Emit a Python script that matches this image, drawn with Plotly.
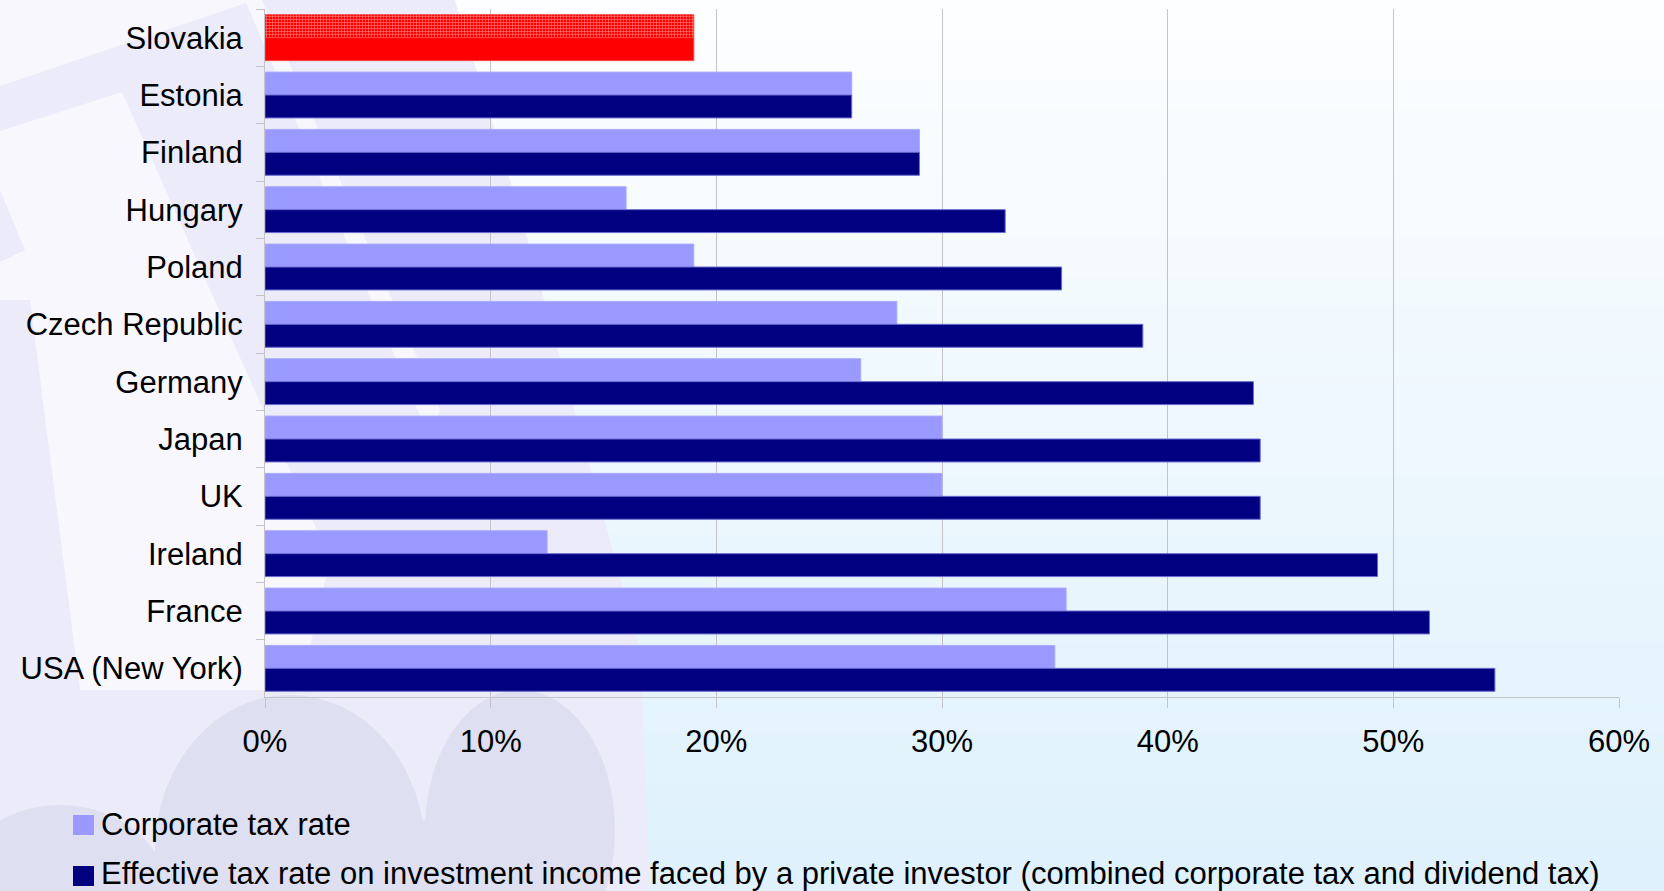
import plotly.graph_objects as go

# Tax rates by country, in percent
countries = ["Slovakia", "Estonia", "Finland", "Hungary", "Poland", "Czech Republic",
             "Germany", "Japan", "UK", "Ireland", "France", "USA (New York)"]
corporate_tax = [19.0, 26.0, 29.0, 16.0, 19.0, 28.0, 26.4, 30.0, 30.0, 12.5, 35.5, 35.0]
effective_tax = [19.0, 26.0, 29.0, 32.8, 35.3, 38.9, 43.8, 44.1, 44.1, 49.3, 51.6, 54.5]

corporate_name = "Corporate tax rate"
effective_name = ("Effective tax rate on investment income faced by a private investor "
                  "(combined corporate tax and dividend tax)")

x_ticks = [0, 10, 20, 30, 40, 50, 60]
x_tick_labels = ["0%", "10%", "20%", "30%", "40%", "50%", "60%"]

W, H = 1664, 891
ML, MR, MT, MB = 265, 45, 9, 194
PW, PH = W - ML - MR, H - MT - MB

LIGHT = "#9999ff"
DARK = "#000080"
RED = "#ff0000"
highlight = "Slovakia"


def px(X):
    return (X - ML) / PW


def py(Y):
    return 1 - (Y - MT) / PH


def poly(points, color):
    d = "M " + " L ".join(f"{px(x):.5f},{py(y):.5f}" for x, y in points) + " Z"
    return dict(type="path", xref="paper", yref="paper", path=d,
                fillcolor=color, line=dict(width=0), layer="below")


def ellipse(x0, y0, x1, y1, color):
    return dict(type="circle", xref="paper", yref="paper",
                x0=px(x0), x1=px(x1), y0=py(y1), y1=py(y0),
                fillcolor=color, line=dict(width=0), layer="below")


shapes = []
# vertical background gradient
top_rgb = (253, 254, 255)
bot_rgb = (222, 241, 252)
n = 90
for i in range(n):
    t = i / (n - 1)
    c = tuple(round(a + (b - a) * t) for a, b in zip(top_rgb, bot_rgb))
    y0 = H * i / n
    y1 = H * (i + 1) / n + 1
    shapes.append(dict(type="rect", xref="paper", yref="paper",
                       x0=px(0), x1=px(W), y0=py(y1), y1=py(y0),
                       fillcolor=f"rgb{c}", line=dict(width=0), layer="below"))

LAV = "#ebebfa"
PALE = "#f8f7fd"
LOBE = "#dedff0"
# decorative emblem on the left
shapes.append(poly([(0, 0), (455, 0), (525, 230), (640, 650), (650, H), (0, H)], LAV))
shapes.append(poly([(0, 0), (255, 0), (0, 86)], PALE))
shapes.append(poly([(0, 131), (122, 92), (330, 560), (300, 690), (0, 690)], PALE))
shapes.append(poly([(245, 0), (262, 0), (440, 410), (430, 440)], PALE))
shapes.append(poly([(0, 300), (30, 300), (80, 690), (0, 690)], LAV))
shapes.append(poly([(0, 190), (25, 250), (0, 262)], LAV))
shapes.append(ellipse(155, 695, 425, 1005, LOBE))
shapes.append(ellipse(425, 690, 615, 970, LOBE))
shapes.append(poly([(220, 891), (590, 891), (520, 820), (300, 820)], LOBE))
shapes.append(ellipse(-50, 805, 170, 995, LOBE))

# legend swatches
shapes.append(dict(type="rect", xref="paper", yref="paper",
                   x0=px(73), x1=px(94), y0=py(835), y1=py(815),
                   fillcolor=LIGHT, line=dict(width=0)))
shapes.append(dict(type="rect", xref="paper", yref="paper",
                   x0=px(73), x1=px(94), y0=py(886), y1=py(866),
                   fillcolor=DARK, line=dict(width=0)))

FONT = "Liberation Sans, Arial, sans-serif"
FS = 31

corp_colors = [RED if c == highlight else LIGHT for c in countries]
corp_lines = ["#ff4040" if c == highlight else "#aaaaff" for c in countries]
corp_patterns = ["+" if c == highlight else "" for c in countries]
eff_colors = [RED if c == highlight else DARK for c in countries]
eff_lines = ["#ff4040" if c == highlight else "#6a6ad0" for c in countries]

fig = go.Figure()
fig.add_trace(go.Bar(
    y=countries, x=corporate_tax, orientation="h", name=corporate_name,
    marker=dict(color=corp_colors, line=dict(color=corp_lines, width=1),
                pattern=dict(shape=corp_patterns, fgcolor="#ffd6d6", size=3,
                             solidity=0.35, fillmode="overlay")),
    hovertemplate="%{y}: %{x}%<extra>" + corporate_name + "</extra>",
))
fig.add_trace(go.Bar(
    y=countries, x=effective_tax, orientation="h", name="Effective tax rate",
    marker=dict(color=eff_colors, line=dict(color=eff_lines, width=1)),
    hovertemplate="%{y}: %{x}%<extra>Effective tax rate</extra>",
))

annotations = [
    dict(xref="paper", yref="paper", x=px(99), y=py(824), text=corporate_name,
         showarrow=False, xanchor="left", yanchor="middle",
         font=dict(family=FONT, size=FS, color="#000000")),
    dict(xref="paper", yref="paper", x=px(99), y=py(874), text=effective_name,
         showarrow=False, xanchor="left", yanchor="middle",
         font=dict(family=FONT, size=FS, color="#000000")),
]

fig.update_layout(
    width=W, height=H,
    margin=dict(l=ML, r=MR, t=MT, b=MB, autoexpand=False),
    paper_bgcolor="#f4f9fe",
    plot_bgcolor="rgba(0,0,0,0)",
    barmode="group", bargap=0.2, bargroupgap=0.0,
    showlegend=False,
    shapes=shapes,
    annotations=annotations,
    font=dict(family=FONT, size=FS, color="#000000"),
    xaxis=dict(
        range=[0, 60], tickmode="array", tickvals=x_ticks, ticktext=x_tick_labels,
        showgrid=True, gridcolor="#c4c4c8", gridwidth=1,
        showline=True, linecolor="#c4c4c8", linewidth=1,
        ticks="outside", ticklen=10, tickcolor="#c4c4c8",
        ticklabelstandoff=7, zeroline=False, automargin=False,
        tickfont=dict(family=FONT, size=FS, color="#000000"),
    ),
    yaxis=dict(
        type="category", categoryorder="array", categoryarray=countries,
        autorange="reversed", tickson="boundaries",
        showline=True, linecolor="#c4c4c8", linewidth=1,
        ticks="outside", ticklen=8, tickcolor="#c4c4c8",
        ticklabelstandoff=15, showgrid=False, automargin=False,
        tickfont=dict(family=FONT, size=FS, color="#000000"),
    ),
)

fig.write_html("out.html")
